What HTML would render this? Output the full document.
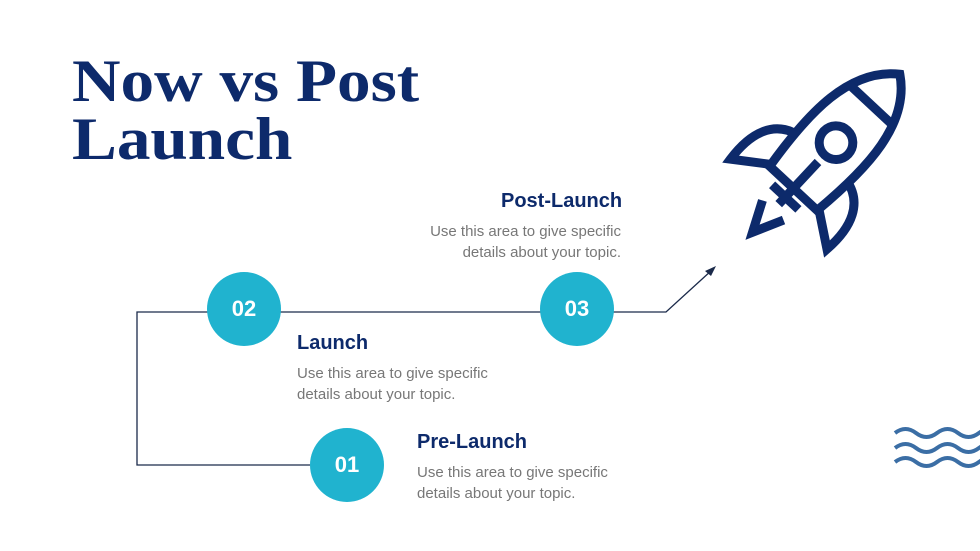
<!DOCTYPE html>
<html><head><style>
body{margin:0;width:980px;height:551px;background:#fff;position:relative;overflow:hidden;font-family:"Liberation Sans",sans-serif}
.t{position:absolute;left:72px;top:52px;font-family:"Liberation Serif",serif;font-weight:bold;font-size:60px;line-height:58px;color:#0d2a6b;transform:scaleX(1.12);transform-origin:0 0}
.h{position:absolute;font-weight:bold;font-size:20px;color:#0d2a6b}
.p{position:absolute;font-size:15px;line-height:21px;color:#777}
.c{position:absolute;width:74px;height:74px;border-radius:50%;background:#20b3cf;color:#fff;font-weight:bold;font-size:22px;display:flex;align-items:center;justify-content:center}
</style></head><body>
<div class="t">Now vs Post<br>Launch</div>
<svg width="980" height="551" style="position:absolute;left:0;top:0">
<g stroke="#1b2a4a" stroke-width="1.3" fill="none">
<polyline points="310,465 137,465 137,312 666,312 712,270"/>
</g>
<polygon points="716,266 705,271 711,276" fill="#1b2a4a"/>
<g transform="translate(818,162) scale(1.2) rotate(43)" stroke="#0d2a6b" stroke-width="7.5" fill="none" stroke-linejoin="miter">
<path d="M0,-100 C34,-75 34,-25 27,30 L-27,30 C-34,-25 -34,-75 0,-100 Z"/>
<line x1="-26" y1="-65" x2="26" y2="-65"/>
<circle cx="0" cy="-22" r="14"/>
<line x1="0" y1="0" x2="0" y2="48"/>
<line x1="-15" y1="40" x2="15" y2="40"/>
<path d="M-28,-5 C-50,0 -58,20 -55,48 L-27,28"/>
<path d="M28,-5 C50,0 58,20 55,48 L27,28"/>
<path d="M-12,55 L0,80 L12,55"/>
</g>
<g stroke="#3b6ea5" stroke-width="4" fill="none">
<path d="M895,433 q10.5,-8 21,0 t21,0 t21,0 t21,0 t21,0"/>
<path d="M895,448 q10.5,-8 21,0 t21,0 t21,0 t21,0 t21,0"/>
<path d="M895,462 q10.5,-8 21,0 t21,0 t21,0 t21,0 t21,0"/>
</g>
</svg>
<div class="c" style="left:207px;top:272px">02</div>
<div class="c" style="left:540px;top:272px">03</div>
<div class="c" style="left:310px;top:428px">01</div>
<div class="h" style="left:501px;top:190px">Post-Launch</div>
<div class="p" style="left:380px;top:221px;width:241px;text-align:right">Use this area to give specific<br>details about your topic.</div>
<div class="h" style="left:297px;top:332px">Launch</div>
<div class="p" style="left:297px;top:363px">Use this area to give specific<br>details about your topic.</div>
<div class="h" style="left:417px;top:431px">Pre-Launch</div>
<div class="p" style="left:417px;top:462px">Use this area to give specific<br>details about your topic.</div>
</body></html>
